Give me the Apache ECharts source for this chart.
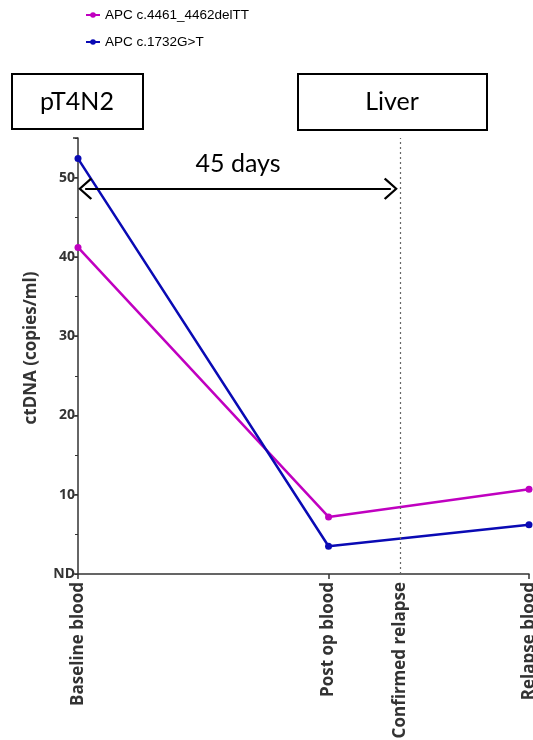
<!DOCTYPE html>
<html><head><meta charset="utf-8">
<script src="https://cdn.jsdelivr.net/npm/echarts@6/dist/echarts.min.js"></script>
<style>html,body{margin:0;padding:0;background:#fff}#c{width:533px;height:740px}</style>
</head><body><div id="c"></div>
<script>
// ---- data ----
const timepointDays = [0, 35, 63];
const timepointLabels = ['Baseline blood', 'Post op blood', 'Relapse blood'];
const relapseDay = 45;
const relapseLabel = 'Confirmed relapse';
const seriesNames = ['APC c.4461_4462delTT', 'APC c.1732G>T'];
const delTTValues = [41.2, 7.2, 10.7];
const g1732Values = [52.4, 3.5, 6.2];
const yTickValues = [0, 10, 20, 30, 40, 50];
const yTickLabels = ['ND', '10', '20', '30', '40', '50'];
const intervalText = '45 days';
const intervalArrowDays = [1.0, 43.7];
const intervalArrowLevel = 48.6;
const boxTexts = ['pT4N2', 'Liver'];

// ---- chart ----
const chart = echarts.init(document.getElementById('c'), null, {renderer: 'canvas'});
const xLabelMap = {};
timepointDays.forEach((d, i) => { xLabelMap[d] = timepointLabels[i]; });
xLabelMap[relapseDay] = relapseLabel;
const yLabelMap = {};
yTickValues.forEach((v, i) => { yLabelMap[v] = yTickLabels[i]; });

const chevron = 'path://M11,0 L22,12.3 L20.4,14 L11,3.2 L1.6,14 L0,12.3 Z';
const axisFont = {fontFamily: 'Open Sans', fontWeight: 'bold', fontSize: 17, color: '#333'};

chart.setOption({
  animation: false,
  backgroundColor: '#fff',
  grid: {left: 78, right: 4, top: 138, bottom: 166, containLabel: false, outerBoundsMode: 'none'},
  legend: {
    orient: 'vertical', left: 80, top: 3, itemGap: 13, itemWidth: 14, itemHeight: 7,
    textStyle: {fontFamily: 'Liberation Sans', fontSize: 13.5, color: '#000'},
    data: seriesNames
  },
  xAxis: {
    type: 'value', min: 0, max: 63,
    splitLine: {show: false},
    axisLine: {lineStyle: {color: '#333', width: 1.5}},
    axisTick: {customValues: timepointDays, length: 5, lineStyle: {color: '#333', width: 1.5}},
    axisLabel: Object.assign({
      customValues: timepointDays.concat([relapseDay]),
      rotate: 90, margin: 8, hideOverlap: false,
      formatter: v => xLabelMap[v] || ''
    }, axisFont)
  },
  yAxis: [{
    type: 'value', min: 0, max: 55, interval: 10,
    name: 'ctDNA (copies/ml)', nameLocation: 'middle', nameGap: 38,
    nameTextStyle: {fontFamily: 'Open Sans', fontWeight: 'bold', fontSize: 17, color: '#333', padding: [0, 0, 0, 16]},
    splitLine: {show: false},
    axisLine: {show: true, lineStyle: {color: '#333', width: 1.5}},
    axisTick: {show: true, length: 5, lineStyle: {color: '#333', width: 1.5}},
    axisLabel: Object.assign({margin: 3, formatter: v => (yLabelMap[v] !== undefined ? yLabelMap[v] : '')}, axisFont, {fontSize: 14})
  }, {
    type: 'value', min: 0, max: 55, interval: 5, position: 'left', offset: 0,
    splitLine: {show: false},
    axisLine: {show: false},
    axisTick: {show: true, length: 3, lineStyle: {color: '#333', width: 1}},
    axisLabel: {show: false}
  }],
  series: [{
    name: seriesNames[0], type: 'line', clip: false,
    data: timepointDays.map((d, i) => [d, delTTValues[i]]),
    symbol: 'circle', symbolSize: 7,
    lineStyle: {width: 2.5, color: '#c000c0'}, itemStyle: {color: '#c000c0'},
    markLine: {
      silent: true, symbol: [chevron, chevron], symbolSize: [22, 14],
      lineStyle: {color: '#000', width: 1.8, type: 'solid'},
      label: {show: true, position: 'middle', formatter: intervalText, fontFamily: 'Lato', fontSize: 25, color: '#000', distance: 12},
      data: [[{coord: [intervalArrowDays[0], intervalArrowLevel]}, {coord: [intervalArrowDays[1], intervalArrowLevel]}]]
    }
  }, {
    name: seriesNames[1], type: 'line', clip: false,
    data: timepointDays.map((d, i) => [d, g1732Values[i]]),
    symbol: 'circle', symbolSize: 7,
    lineStyle: {width: 2.5, color: '#0a0ab4'}, itemStyle: {color: '#0a0ab4'},
    markLine: {
      silent: true, symbol: ['none', 'none'],
      lineStyle: {color: '#666', width: 1.2, type: [2, 3]},
      label: {show: false},
      data: [{xAxis: relapseDay}]
    }
  }],
  graphic: [
    {type: 'rect', shape: {x: 12, y: 74, width: 131, height: 55}, style: {fill: '#fff', stroke: '#000', lineWidth: 2}},
    {type: 'text', x: 77, y: 102, style: {text: boxTexts[0], fontFamily: 'Lato', fontSize: 25, fill: '#000', align: 'center', verticalAlign: 'middle'}},
    {type: 'rect', shape: {x: 298, y: 74, width: 189, height: 56}, style: {fill: '#fff', stroke: '#000', lineWidth: 2}},
    {type: 'text', x: 392, y: 102, style: {text: boxTexts[1], fontFamily: 'Lato', fontSize: 25, fill: '#000', align: 'center', verticalAlign: 'middle'}}
  ]
});
</script></body></html>
